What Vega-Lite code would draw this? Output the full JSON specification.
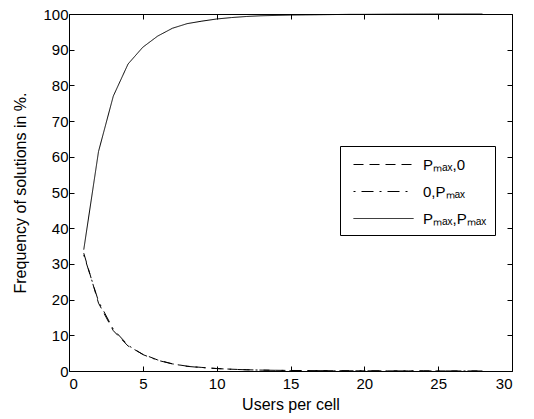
{
  "$schema": "https://vega.github.io/schema/vega-lite/v6.json",
  "width": 443,
  "height": 357,
  "autosize": {"type": "none"},
  "padding": {"left": 69, "top": 14, "right": 22, "bottom": 48},
  "background": "white",
  "config": {
    "view": {"stroke": "black", "strokeWidth": 1},
    "font": "Liberation Sans",
    "axis": {"grid": false, "domain": false, "tickColor": "black", "tickSize": -5, "labelColor": "black", "titleColor": "black", "labelFont": "Liberation Sans", "titleFont": "Liberation Sans", "labelFontSize": 15, "titleFontSize": 16, "titleFontWeight": "normal"}
  },
  "data": {"values": [
    {"x": 1, "s": "Pₘₐₓ,Pₘₐₓ", "y": 34},
    {"x": 2, "s": "Pₘₐₓ,Pₘₐₓ", "y": 61.5},
    {"x": 3, "s": "Pₘₐₓ,Pₘₐₓ", "y": 77},
    {"x": 4, "s": "Pₘₐₓ,Pₘₐₓ", "y": 86},
    {"x": 5, "s": "Pₘₐₓ,Pₘₐₓ", "y": 90.7},
    {"x": 6, "s": "Pₘₐₓ,Pₘₐₓ", "y": 93.8},
    {"x": 7, "s": "Pₘₐₓ,Pₘₐₓ", "y": 96},
    {"x": 8, "s": "Pₘₐₓ,Pₘₐₓ", "y": 97.3},
    {"x": 9, "s": "Pₘₐₓ,Pₘₐₓ", "y": 98},
    {"x": 10, "s": "Pₘₐₓ,Pₘₐₓ", "y": 98.6},
    {"x": 11, "s": "Pₘₐₓ,Pₘₐₓ", "y": 99},
    {"x": 12, "s": "Pₘₐₓ,Pₘₐₓ", "y": 99.3},
    {"x": 13, "s": "Pₘₐₓ,Pₘₐₓ", "y": 99.5},
    {"x": 14, "s": "Pₘₐₓ,Pₘₐₓ", "y": 99.6},
    {"x": 15, "s": "Pₘₐₓ,Pₘₐₓ", "y": 99.7},
    {"x": 16, "s": "Pₘₐₓ,Pₘₐₓ", "y": 99.75},
    {"x": 17, "s": "Pₘₐₓ,Pₘₐₓ", "y": 99.8},
    {"x": 18, "s": "Pₘₐₓ,Pₘₐₓ", "y": 99.85},
    {"x": 19, "s": "Pₘₐₓ,Pₘₐₓ", "y": 99.9},
    {"x": 20, "s": "Pₘₐₓ,Pₘₐₓ", "y": 99.9},
    {"x": 21, "s": "Pₘₐₓ,Pₘₐₓ", "y": 99.93},
    {"x": 22, "s": "Pₘₐₓ,Pₘₐₓ", "y": 99.95},
    {"x": 23, "s": "Pₘₐₓ,Pₘₐₓ", "y": 99.96},
    {"x": 24, "s": "Pₘₐₓ,Pₘₐₓ", "y": 99.97},
    {"x": 25, "s": "Pₘₐₓ,Pₘₐₓ", "y": 99.98},
    {"x": 26, "s": "Pₘₐₓ,Pₘₐₓ", "y": 99.98},
    {"x": 27, "s": "Pₘₐₓ,Pₘₐₓ", "y": 99.99},
    {"x": 28, "s": "Pₘₐₓ,Pₘₐₓ", "y": 99.99},
    {"x": 1, "s": "Pₘₐₓ,0", "y": 33},
    {"x": 2, "s": "Pₘₐₓ,0", "y": 19},
    {"x": 3, "s": "Pₘₐₓ,0", "y": 11.3},
    {"x": 4, "s": "Pₘₐₓ,0", "y": 7},
    {"x": 5, "s": "Pₘₐₓ,0", "y": 4.7},
    {"x": 6, "s": "Pₘₐₓ,0", "y": 3.1},
    {"x": 7, "s": "Pₘₐₓ,0", "y": 2.0},
    {"x": 8, "s": "Pₘₐₓ,0", "y": 1.35},
    {"x": 9, "s": "Pₘₐₓ,0", "y": 1.0},
    {"x": 10, "s": "Pₘₐₓ,0", "y": 0.7},
    {"x": 11, "s": "Pₘₐₓ,0", "y": 0.5},
    {"x": 12, "s": "Pₘₐₓ,0", "y": 0.35},
    {"x": 13, "s": "Pₘₐₓ,0", "y": 0.25},
    {"x": 14, "s": "Pₘₐₓ,0", "y": 0.2},
    {"x": 15, "s": "Pₘₐₓ,0", "y": 0.15},
    {"x": 16, "s": "Pₘₐₓ,0", "y": 0.12},
    {"x": 17, "s": "Pₘₐₓ,0", "y": 0.1},
    {"x": 18, "s": "Pₘₐₓ,0", "y": 0.08},
    {"x": 19, "s": "Pₘₐₓ,0", "y": 0.06},
    {"x": 20, "s": "Pₘₐₓ,0", "y": 0.05},
    {"x": 21, "s": "Pₘₐₓ,0", "y": 0.04},
    {"x": 22, "s": "Pₘₐₓ,0", "y": 0.03},
    {"x": 23, "s": "Pₘₐₓ,0", "y": 0.03},
    {"x": 24, "s": "Pₘₐₓ,0", "y": 0.02},
    {"x": 25, "s": "Pₘₐₓ,0", "y": 0.02},
    {"x": 26, "s": "Pₘₐₓ,0", "y": 0.01},
    {"x": 27, "s": "Pₘₐₓ,0", "y": 0.01},
    {"x": 28, "s": "Pₘₐₓ,0", "y": 0.01},
    {"x": 1, "s": "0,Pₘₐₓ", "y": 32.5},
    {"x": 2, "s": "0,Pₘₐₓ", "y": 19.5},
    {"x": 3, "s": "0,Pₘₐₓ", "y": 11.7},
    {"x": 4, "s": "0,Pₘₐₓ", "y": 7.2},
    {"x": 5, "s": "0,Pₘₐₓ", "y": 4.6},
    {"x": 6, "s": "0,Pₘₐₓ", "y": 3.0},
    {"x": 7, "s": "0,Pₘₐₓ", "y": 2.0},
    {"x": 8, "s": "0,Pₘₐₓ", "y": 1.3},
    {"x": 9, "s": "0,Pₘₐₓ", "y": 0.95},
    {"x": 10, "s": "0,Pₘₐₓ", "y": 0.68},
    {"x": 11, "s": "0,Pₘₐₓ", "y": 0.48},
    {"x": 12, "s": "0,Pₘₐₓ", "y": 0.34},
    {"x": 13, "s": "0,Pₘₐₓ", "y": 0.25},
    {"x": 14, "s": "0,Pₘₐₓ", "y": 0.19},
    {"x": 15, "s": "0,Pₘₐₓ", "y": 0.14},
    {"x": 16, "s": "0,Pₘₐₓ", "y": 0.11},
    {"x": 17, "s": "0,Pₘₐₓ", "y": 0.09},
    {"x": 18, "s": "0,Pₘₐₓ", "y": 0.07},
    {"x": 19, "s": "0,Pₘₐₓ", "y": 0.06},
    {"x": 20, "s": "0,Pₘₐₓ", "y": 0.05},
    {"x": 21, "s": "0,Pₘₐₓ", "y": 0.04},
    {"x": 22, "s": "0,Pₘₐₓ", "y": 0.03},
    {"x": 23, "s": "0,Pₘₐₓ", "y": 0.03},
    {"x": 24, "s": "0,Pₘₐₓ", "y": 0.02},
    {"x": 25, "s": "0,Pₘₐₓ", "y": 0.02},
    {"x": 26, "s": "0,Pₘₐₓ", "y": 0.01},
    {"x": 27, "s": "0,Pₘₐₓ", "y": 0.01},
    {"x": 28, "s": "0,Pₘₐₓ", "y": 0.01}
  ]},
  "layer": [
    {
      "mark": {"type": "line", "color": "black", "strokeWidth": 1},
      "encoding": {
        "x": {"field": "x", "type": "quantitative", "scale": {"domain": [0, 30], "nice": false, "zero": false}, "axis": {"title": "Users per cell", "values": [0,5,10,15,20,25,30], "labelPadding": 10, "titlePadding": 5}},
        "y": {"field": "y", "type": "quantitative", "scale": {"domain": [0, 100], "nice": false}, "axis": {"title": "Frequency of solutions in %.", "values": [0,10,20,30,40,50,60,70,80,90,100], "labelPadding": 6, "titlePadding": 14}},
        "strokeDash": {"field": "s", "type": "nominal",
          "scale": {"domain": ["Pₘₐₓ,0", "0,Pₘₐₓ", "Pₘₐₓ,Pₘₐₓ"], "range": [[10, 6], [2, 6, 12, 6], [1, 0]]},
          "legend": {"title": null, "orient": "none", "legendX": 271, "legendY": 132, "strokeColor": "black", "fillColor": "white", "padding": 8, "symbolType": "M-0.5,0H5.5", "symbolSize": 400, "symbolStrokeWidth": 1, "symbolStrokeColor": "black", "symbolFillColor": "transparent", "labelFontSize": 15, "labelFont": "Liberation Sans", "labelColor": "black", "labelOffset": 54, "rowPadding": 8, "cornerRadius": 0}
        }
      }
    },
    {
      "mark": {"type": "rule", "opacity": 0},
      "encoding": {
        "x": {"datum": 0, "type": "quantitative", "scale": {"domain": [0, 30], "nice": false, "zero": false}, "axis": {"orient": "top", "title": null, "labels": false, "values": [0,5,10,15,20,25,30]}},
        "y": {"datum": 0, "type": "quantitative", "scale": {"domain": [0, 100], "nice": false}, "axis": {"orient": "right", "title": null, "labels": false, "values": [0,10,20,30,40,50,60,70,80,90,100]}}
      }
    }
  ],
  "resolve": {"scale": {"x": "independent", "y": "independent"}, "axis": {"x": "independent", "y": "independent"}}
}
